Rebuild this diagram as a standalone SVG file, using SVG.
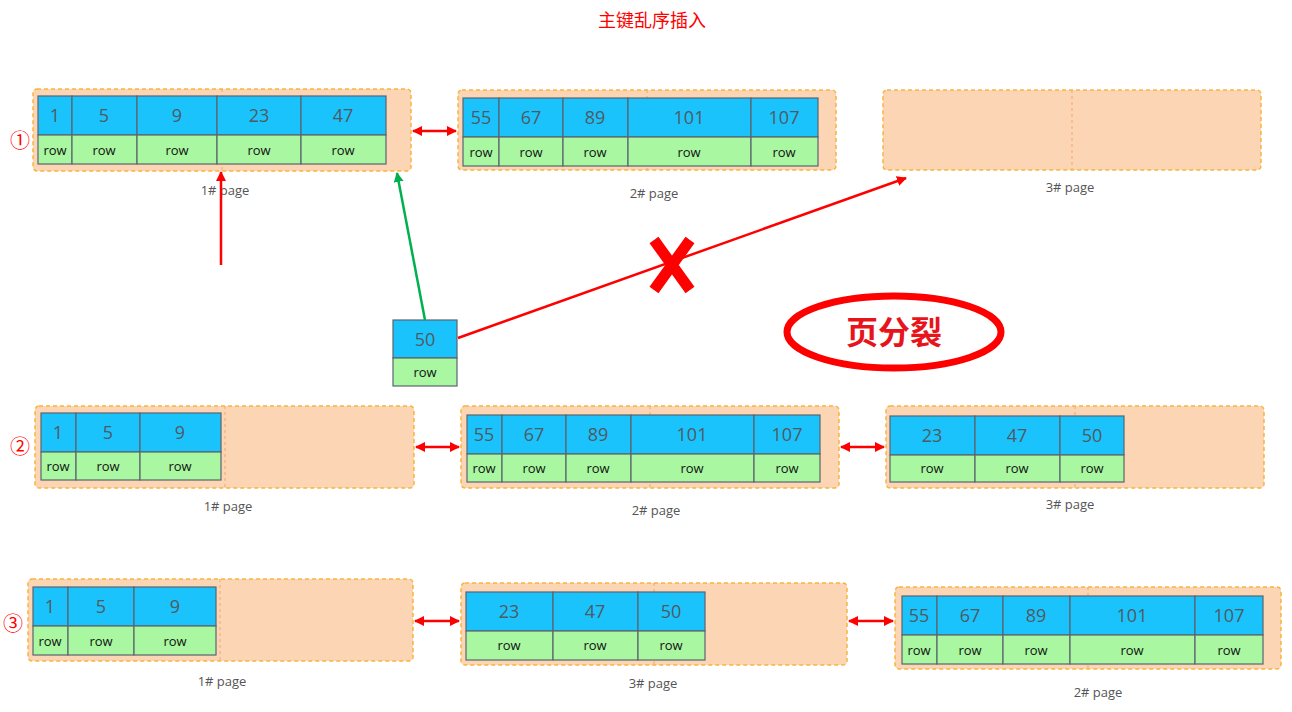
<svg xmlns="http://www.w3.org/2000/svg" width="1292" height="712" viewBox="0 0 1292 712">
<defs>
<style>
.pg{fill:#fbd5b4;stroke:#f7b53c;stroke-width:1.5;stroke-dasharray:4 3}
.mid{stroke:#f3a86a;stroke-width:1;stroke-dasharray:3 3}
.b{fill:#1bc3fc;stroke:#5b6470;stroke-width:1.2}
.g{fill:#a9f7a1;stroke:#5b6470;stroke-width:1.2}
.k{font-family:"Open Sans","Liberation Sans",sans-serif;font-size:18px;fill:#505a64;text-anchor:middle}
.r{font-family:"Open Sans","Liberation Sans",sans-serif;font-size:13px;fill:#111;text-anchor:middle}
.lb{font-family:"Open Sans","Liberation Sans",sans-serif;font-size:13px;fill:#555;text-anchor:middle}
.num{font-family:"Liberation Sans","Noto Sans CJK SC",sans-serif;font-size:20px;fill:#f00;text-anchor:middle}
.red{stroke:#f00;stroke-width:2.5;fill:none}
</style>
<marker id="ah" viewBox="0 0 10 10" refX="9" refY="5" markerWidth="4" markerHeight="4" orient="auto-start-reverse"><path d="M0,0L10,5L0,10z" fill="#f00"/></marker>
<marker id="ag" viewBox="0 0 10 10" refX="9" refY="5" markerWidth="4" markerHeight="4" orient="auto"><path d="M0,0L10,5L0,10z" fill="#00b050"/></marker>
</defs>
<text x="652" y="27" font-family="'Noto Sans CJK SC',sans-serif" font-size="18" fill="#f00" text-anchor="middle">主键乱序插入</text>

<g id="r1p1"><rect class="pg" x="33" y="89" width="378" height="82" rx="4"/><line class="mid" x1="222" y1="89" x2="222" y2="171"/>
<rect class="b" x="38" y="96" width="34" height="39"/><rect class="b" x="72" y="96" width="65" height="39"/><rect class="b" x="137" y="96" width="80" height="39"/><rect class="b" x="217" y="96" width="84" height="39"/><rect class="b" x="301" y="96" width="85" height="39"/>
<rect class="g" x="38" y="135" width="34" height="29"/><rect class="g" x="72" y="135" width="65" height="29"/><rect class="g" x="137" y="135" width="80" height="29"/><rect class="g" x="217" y="135" width="84" height="29"/><rect class="g" x="301" y="135" width="85" height="29"/>
<text class="k" x="55" y="122">1</text><text class="k" x="104" y="122">5</text><text class="k" x="177" y="122">9</text><text class="k" x="259" y="122">23</text><text class="k" x="343" y="122">47</text>
<text class="r" x="55" y="155">row</text><text class="r" x="104" y="155">row</text><text class="r" x="177" y="155">row</text><text class="r" x="259" y="155">row</text><text class="r" x="343" y="155">row</text>
<text class="lb" x="225" y="195">1#  page</text></g>

<g id="r1p2"><rect class="pg" x="458" y="90" width="378" height="80" rx="4"/><line class="mid" x1="647" y1="90" x2="647" y2="170"/>
<rect class="b" x="463" y="98" width="36" height="39"/><rect class="b" x="499" y="98" width="64" height="39"/><rect class="b" x="563" y="98" width="65" height="39"/><rect class="b" x="628" y="98" width="123" height="39"/><rect class="b" x="751" y="98" width="67" height="39"/>
<rect class="g" x="463" y="137" width="36" height="29"/><rect class="g" x="499" y="137" width="64" height="29"/><rect class="g" x="563" y="137" width="65" height="29"/><rect class="g" x="628" y="137" width="123" height="29"/><rect class="g" x="751" y="137" width="67" height="29"/>
<text class="k" x="481" y="124">55</text><text class="k" x="531" y="124">67</text><text class="k" x="595" y="124">89</text><text class="k" x="689" y="124">101</text><text class="k" x="784" y="124">107</text>
<text class="r" x="481" y="157">row</text><text class="r" x="531" y="157">row</text><text class="r" x="595" y="157">row</text><text class="r" x="689" y="157">row</text><text class="r" x="784" y="157">row</text>
<text class="lb" x="654" y="198">2#  page</text></g>

<g id="r1p3"><rect class="pg" x="883" y="90" width="378" height="80" rx="4"/><line class="mid" x1="1072" y1="90" x2="1072" y2="170"/>
<text class="lb" x="1070" y="192">3#  page</text></g>

<g id="n50"><rect class="b" x="393" y="320" width="64" height="38"/><rect class="g" x="393" y="358" width="64" height="28"/>
<text class="k" x="425" y="346">50</text><text class="r" x="425" y="377">row</text></g>

<g id="split"><ellipse cx="894" cy="332" rx="107" ry="36" fill="none" stroke="#f00" stroke-width="7"/>
<text x="894" y="344" font-family="'Noto Sans CJK SC',sans-serif" font-size="32" font-weight="bold" fill="#e8141c" text-anchor="middle">页分裂</text></g>

<g id="r2p1"><rect class="pg" x="35" y="406" width="379" height="82" rx="4"/><line class="mid" x1="225" y1="406" x2="225" y2="488"/>
<rect class="b" x="41" y="413" width="35" height="39"/><rect class="b" x="76" y="413" width="64" height="39"/><rect class="b" x="140" y="413" width="81" height="39"/>
<rect class="g" x="41" y="452" width="35" height="28"/><rect class="g" x="76" y="452" width="64" height="28"/><rect class="g" x="140" y="452" width="81" height="28"/>
<text class="k" x="58" y="439">1</text><text class="k" x="108" y="439">5</text><text class="k" x="180" y="439">9</text>
<text class="r" x="58" y="471">row</text><text class="r" x="108" y="471">row</text><text class="r" x="180" y="471">row</text>
<text class="lb" x="228" y="511">1#  page</text></g>

<g id="r2p2"><rect class="pg" x="461" y="406" width="378" height="82" rx="4"/><line class="mid" x1="650" y1="406" x2="650" y2="488"/>
<rect class="b" x="467" y="415" width="35" height="39"/><rect class="b" x="502" y="415" width="64" height="39"/><rect class="b" x="566" y="415" width="65" height="39"/><rect class="b" x="631" y="415" width="123" height="39"/><rect class="b" x="754" y="415" width="66" height="39"/>
<rect class="g" x="467" y="454" width="35" height="28"/><rect class="g" x="502" y="454" width="64" height="28"/><rect class="g" x="566" y="454" width="65" height="28"/><rect class="g" x="631" y="454" width="123" height="28"/><rect class="g" x="754" y="454" width="66" height="28"/>
<text class="k" x="484" y="441">55</text><text class="k" x="534" y="441">67</text><text class="k" x="598" y="441">89</text><text class="k" x="692" y="441">101</text><text class="k" x="787" y="441">107</text>
<text class="r" x="484" y="473">row</text><text class="r" x="534" y="473">row</text><text class="r" x="598" y="473">row</text><text class="r" x="692" y="473">row</text><text class="r" x="787" y="473">row</text>
<text class="lb" x="656" y="515">2#  page</text></g>

<g id="r2p3"><rect class="pg" x="886" y="406" width="378" height="82" rx="4"/><line class="mid" x1="1075" y1="406" x2="1075" y2="488"/>
<rect class="b" x="890" y="416" width="85" height="39"/><rect class="b" x="975" y="416" width="85" height="39"/><rect class="b" x="1060" y="416" width="64" height="39"/>
<rect class="g" x="890" y="455" width="85" height="27"/><rect class="g" x="975" y="455" width="85" height="27"/><rect class="g" x="1060" y="455" width="64" height="27"/>
<text class="k" x="932" y="442">23</text><text class="k" x="1017" y="442">47</text><text class="k" x="1092" y="442">50</text>
<text class="r" x="932" y="473">row</text><text class="r" x="1017" y="473">row</text><text class="r" x="1092" y="473">row</text>
<text class="lb" x="1070" y="509">3#  page</text></g>

<g id="r3p1"><rect class="pg" x="28" y="579" width="385" height="82" rx="4"/><line class="mid" x1="220" y1="579" x2="220" y2="661"/>
<rect class="b" x="33" y="587" width="35" height="39"/><rect class="b" x="68" y="587" width="66" height="39"/><rect class="b" x="134" y="587" width="82" height="39"/>
<rect class="g" x="33" y="626" width="35" height="29"/><rect class="g" x="68" y="626" width="66" height="29"/><rect class="g" x="134" y="626" width="82" height="29"/>
<text class="k" x="50" y="613">1</text><text class="k" x="101" y="613">5</text><text class="k" x="175" y="613">9</text>
<text class="r" x="50" y="646">row</text><text class="r" x="101" y="646">row</text><text class="r" x="175" y="646">row</text>
<text class="lb" x="222" y="686">1#  page</text></g>

<g id="r3p2"><rect class="pg" x="461" y="583" width="386" height="82" rx="4"/><line class="mid" x1="654" y1="583" x2="654" y2="665"/>
<rect class="b" x="466" y="592" width="87" height="39"/><rect class="b" x="553" y="592" width="85" height="39"/><rect class="b" x="638" y="592" width="67" height="39"/>
<rect class="g" x="466" y="631" width="87" height="29"/><rect class="g" x="553" y="631" width="85" height="29"/><rect class="g" x="638" y="631" width="67" height="29"/>
<text class="k" x="509" y="618">23</text><text class="k" x="595" y="618">47</text><text class="k" x="671" y="618">50</text>
<text class="r" x="509" y="650">row</text><text class="r" x="595" y="650">row</text><text class="r" x="671" y="650">row</text>
<text class="lb" x="653" y="688">3#  page</text></g>

<g id="r3p3"><rect class="pg" x="895" y="587" width="386" height="82" rx="4"/><line class="mid" x1="1088" y1="587" x2="1088" y2="669"/>
<rect class="b" x="902" y="596" width="35" height="39"/><rect class="b" x="937" y="596" width="66" height="39"/><rect class="b" x="1003" y="596" width="67" height="39"/><rect class="b" x="1070" y="596" width="125" height="39"/><rect class="b" x="1195" y="596" width="68" height="39"/>
<rect class="g" x="902" y="635" width="35" height="29"/><rect class="g" x="937" y="635" width="66" height="29"/><rect class="g" x="1003" y="635" width="67" height="29"/><rect class="g" x="1070" y="635" width="125" height="29"/><rect class="g" x="1195" y="635" width="68" height="29"/>
<text class="k" x="919" y="622">55</text><text class="k" x="970" y="622">67</text><text class="k" x="1036" y="622">89</text><text class="k" x="1132" y="622">101</text><text class="k" x="1229" y="622">107</text>
<text class="r" x="919" y="655">row</text><text class="r" x="970" y="655">row</text><text class="r" x="1036" y="655">row</text><text class="r" x="1132" y="655">row</text><text class="r" x="1229" y="655">row</text>
<text class="lb" x="1098" y="697">2#  page</text></g>

<g id="labels"><text class="num" x="20" y="148">①</text><text class="num" x="20" y="454">②</text><text class="num" x="13" y="631">③</text></g>

<g id="connectors">
<line class="red" x1="413" y1="131" x2="456" y2="131" marker-start="url(#ah)" marker-end="url(#ah)"/>
<line class="red" x1="416" y1="447" x2="459" y2="447" marker-start="url(#ah)" marker-end="url(#ah)"/>
<line class="red" x1="841" y1="447" x2="884" y2="447" marker-start="url(#ah)" marker-end="url(#ah)"/>
<line class="red" x1="415" y1="621" x2="459" y2="621" marker-start="url(#ah)" marker-end="url(#ah)"/>
<line class="red" x1="849" y1="621" x2="893" y2="621" marker-start="url(#ah)" marker-end="url(#ah)"/>
<line class="red" x1="221" y1="265" x2="221" y2="172" marker-end="url(#ah)"/>
<line x1="425" y1="320" x2="397" y2="173" stroke="#00b050" stroke-width="2.5" marker-end="url(#ag)"/>
<line class="red" x1="458" y1="338" x2="906" y2="178" marker-end="url(#ah)"/>
<path d="M654,240L690,290M690,240L654,290" stroke="#f00" stroke-width="11" fill="none"/>
</g>
</svg>
